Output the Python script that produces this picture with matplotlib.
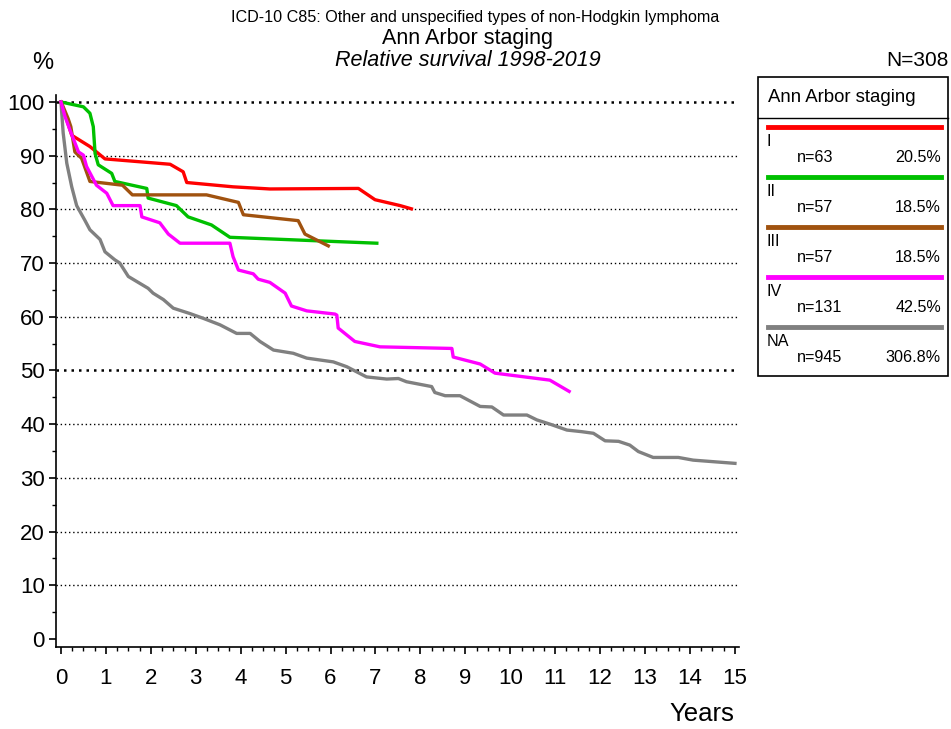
import matplotlib.pyplot as plt
from matplotlib.ticker import MultipleLocator
from matplotlib.patches import Rectangle

plt.rcParams['font.family'] = ['Liberation Sans', 'DejaVu Sans']

# survival curves (years, relative survival %)
stage_I_x = [0, 0.24, 0.645, 0.98, 2.43, 2.72, 2.80, 3.83, 4.65, 6.62, 6.99, 7.55, 7.80]
stage_I_y = [100, 93.8, 91.7, 89.4, 88.4, 87.0, 85.0, 84.2, 83.8, 83.9, 81.8, 80.7, 80.1]

stage_II_x = [0, 0.50, 0.645, 0.72, 0.76, 0.83, 1.13, 1.20, 1.91, 1.94, 2.57, 2.83, 3.35, 3.76, 7.03]
stage_II_y = [100, 99.1, 97.9, 95.4, 90.4, 88.3, 86.7, 85.2, 83.9, 82.1, 80.7, 78.6, 77.1, 74.8, 73.7]

stage_III_x = [0, 0.05, 0.16, 0.22, 0.31, 0.46, 0.645, 1.37, 1.59, 3.24, 3.95, 4.06, 5.28, 5.43, 5.95]
stage_III_y = [100, 99.1, 96.9, 95.4, 90.7, 89.5, 85.2, 84.5, 82.7, 82.7, 81.3, 79.0, 77.9, 75.4, 73.2]

stage_IV_x = [0, 0.09, 0.2, 0.39, 0.5, 0.57, 0.79, 1.02, 1.16, 1.76, 1.80, 2.20, 2.39, 2.65,
              3.76, 3.83, 3.95, 4.28, 4.39, 4.65, 4.99, 5.13, 5.47, 6.10, 6.14, 6.17, 6.54,
              7.10, 8.70, 8.73, 9.33, 9.66, 10.88, 11.31]
stage_IV_y = [100, 97.3, 94.8, 90.7, 90.1, 88.0, 84.5, 83.0, 80.7, 80.7, 78.6, 77.5, 75.4, 73.7,
              73.7, 71.2, 68.7, 68.0, 67.0, 66.4, 64.4, 62.0, 61.1, 60.5, 60.3, 57.9, 55.4,
              54.4, 54.1, 52.5, 51.2, 49.5, 48.2, 46.1]

stage_NA_x = [0, 0.05, 0.13, 0.24, 0.35, 0.53, 0.645, 0.87, 0.98, 1.20, 1.31, 1.50, 1.76, 1.94,
              2.05, 2.28, 2.50, 2.87, 3.17, 3.54, 3.91, 4.21, 4.43, 4.73, 5.17, 5.47, 6.06,
              6.36, 6.80, 7.25, 7.51, 7.69, 8.25, 8.32, 8.55, 8.88, 9.33, 9.59, 9.85, 10.37,
              10.59, 10.92, 11.26, 11.59, 11.85, 12.11, 12.41, 12.66, 12.85, 13.18, 13.74,
              14.07, 15.0]
stage_NA_y = [100, 94.2, 88.6, 84.2, 80.7, 78.0, 76.2, 74.4, 72.1, 70.6, 70.0, 67.5, 66.2, 65.3,
              64.4, 63.2, 61.6, 60.6, 59.7, 58.5, 56.9, 56.9, 55.4, 53.8, 53.2, 52.3, 51.6,
              50.7, 48.8, 48.4, 48.5, 47.9, 47.0, 45.9, 45.3, 45.3, 43.3, 43.2, 41.7, 41.7,
              40.8, 39.9, 38.9, 38.6, 38.3, 36.9, 36.8, 36.1, 34.9, 33.8, 33.8,
              33.3, 32.7]

names = ['I', 'II', 'III', 'IV', 'NA']
counts = ['n=63', 'n=57', 'n=57', 'n=131', 'n=945']
shares = ['20.5%', '18.5%', '18.5%', '42.5%', '306.8%']
colors = ['#ff0000', '#00c000', '#a0520f', '#ff00ff', '#808080']
xs = [stage_I_x, stage_II_x, stage_III_x, stage_IV_x, stage_NA_x]
ys = [stage_I_y, stage_II_y, stage_III_y, stage_IV_y, stage_NA_y]

grid_levels = [10, 20, 30, 40, 50, 60, 70, 80, 90, 100]

W, H = 951, 729
fig = plt.figure(figsize=(W / 100, H / 100), dpi=100)
ax = fig.add_axes([56 / W, 1 - 647 / H, (739 - 56) / W, (647 - 95) / H])

for lvl in grid_levels:
    lw = 1.8 if lvl in (50, 100) else 1.0
    ax.axhline(lvl, color='black', linestyle=(0, (1, 2)), linewidth=lw, zorder=1)

# NA drawn first so the staged curves sit on top
for i in [4, 0, 1, 2, 3]:
    ax.plot(xs[i], ys[i], color=colors[i], linewidth=2.4, solid_joinstyle='round', zorder=3)

ax.set_xlim(-0.11, 15.09)
ax.set_ylim(-1.5, 101.3)
ax.spines['top'].set_visible(False)
ax.spines['right'].set_visible(False)
ax.spines['left'].set_linewidth(1.2)
ax.spines['bottom'].set_linewidth(1.2)
ax.xaxis.set_major_locator(MultipleLocator(1))
ax.xaxis.set_minor_locator(MultipleLocator(0.25))
ax.yaxis.set_major_locator(MultipleLocator(10))
ax.yaxis.set_minor_locator(MultipleLocator(5))
ax.tick_params(which='major', length=5, width=1.2, labelsize=16)
ax.tick_params(which='minor', length=3, width=1.0)
ax.tick_params(axis='x', which='major', pad=10)
ax.tick_params(axis='y', which='major', pad=3)

# overlay in pixel coordinates for titles and the legend box
ov = fig.add_axes([0, 0, 1, 1], zorder=5)
ov.set_xlim(0, W)
ov.set_ylim(H, 0)
ov.axis('off')
ov.patch.set_alpha(0)

ov.text(475, 17, 'ICD-10 C85: Other and unspecified types of non-Hodgkin lymphoma',
        ha='center', va='center', fontsize=11.6)
ov.text(468, 38, 'Ann Arbor staging', ha='center', va='center', fontsize=15.5)
ov.text(468, 60, 'Relative survival 1998-2019', ha='center', va='center',
        fontsize=15.5, style='italic')
ov.text(43, 63, '%', ha='center', va='center', fontsize=17)
ov.text(949, 60, 'N=308', ha='right', va='center', fontsize=15)
ov.text(702, 714, 'Years', ha='center', va='center', fontsize=18.5)

ov.add_patch(Rectangle((758, 77), 190, 299, fill=False, edgecolor='black', linewidth=1.2))
ov.plot([758, 948], [118, 118], color='black', linewidth=1.0)
ov.text(768, 97, 'Ann Arbor staging', ha='left', va='center', fontsize=13.4)
for i in range(len(names)):
    y0 = 127 + 50 * i
    ov.plot([768, 941], [y0, y0], color=colors[i], linewidth=3.5)
    ov.text(767, y0 + 14, names[i], ha='left', va='center', fontsize=11.6)
    ov.text(797, y0 + 30, counts[i], ha='left', va='center', fontsize=11.6)
    ov.text(941, y0 + 30, shares[i], ha='right', va='center', fontsize=11.6)

fig.savefig('out.png', dpi=100)
